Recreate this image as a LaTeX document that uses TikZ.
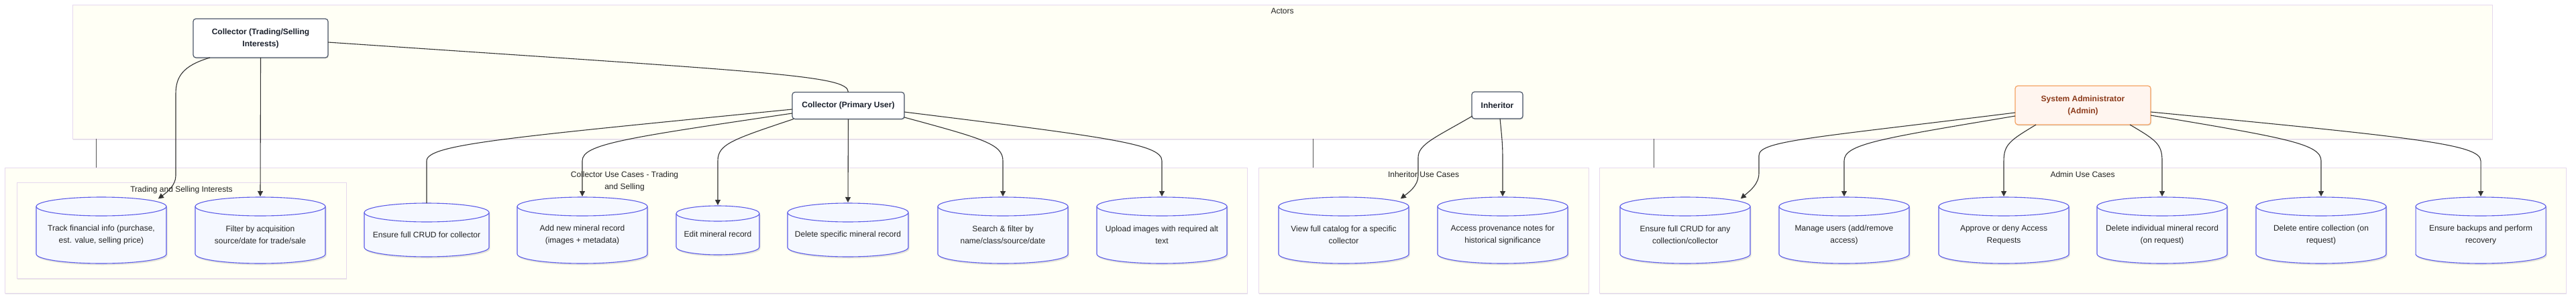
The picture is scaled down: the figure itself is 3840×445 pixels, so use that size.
\documentclass[tikz,border=0pt]{standalone}
\usepackage{fontspec}
\setmainfont{Liberation Sans}
\usetikzlibrary{arrows.meta,calc,shadows}
\definecolor{sgfill}{HTML}{FFFFF5}
\definecolor{sgdraw}{HTML}{E6D8EE}
\definecolor{cylfill}{HTML}{F5F8FF}
\definecolor{cyldraw}{HTML}{5C5CE8}
\definecolor{cyltextcol}{HTML}{222222}
\definecolor{actfill}{HTML}{FFFFFF}
\definecolor{actdraw}{HTML}{4A5568}
\definecolor{acttext}{HTML}{1A202C}
\definecolor{admfill}{HTML}{FFF5EF}
\definecolor{admdraw}{HTML}{F4A261}
\definecolor{admtext}{HTML}{8B3A1A}
\definecolor{edgecol}{HTML}{333333}
\definecolor{linkcol}{HTML}{555555}
\definecolor{titlecol}{HTML}{222222}
\newcommand\mycyl[7]{%
 \pgfmathsetmacro\cylL{#2-#5/2}%
 \pgfmathsetmacro\cylR{#2+#5/2}%
 \pgfmathsetmacro\cylCt{#3+#6}%
 \pgfmathsetmacro\cylCb{#4-#6}%
 \pgfmathsetmacro\cylKx{0.5523*#5/2}%
 \pgfmathsetmacro\cylKy{0.5523*#6}%
 \pgfmathsetmacro\cylXa{#2-\cylKx}%
 \pgfmathsetmacro\cylXb{#2+\cylKx}%
 \pgfmathsetmacro\cylYa{\cylCb+\cylKy}%
 \pgfmathsetmacro\cylYb{\cylCt-\cylKy}%
 \pgfmathsetmacro\cylYc{\cylCt+\cylKy}%
 \pgfmathsetmacro\cylYd{\cylCt+#6}%
 \pgfmathsetmacro\cylM{(#3+#6+#4)/2}%
 \pgfmathsetmacro\cylC{(#3+#4)/2}%
 \pgfmathsetmacro\cylH{#4-#3}%
 \fill[black,opacity=0.10,shift={(1.5,2.5)}] (\cylL,\cylCt) -- (\cylL,\cylCb) .. controls (\cylL,\cylYa) and (\cylXa,#4) .. (#2,#4) .. controls (\cylXb,#4) and (\cylR,\cylYa) .. (\cylR,\cylCb) -- (\cylR,\cylCt) .. controls (\cylR,\cylYb) and (\cylXb,#3) .. (#2,#3) .. controls (\cylXa,#3) and (\cylL,\cylYb) .. (\cylL,\cylCt) -- cycle;
 \filldraw[cylline] (\cylL,\cylCt) -- (\cylL,\cylCb) .. controls (\cylL,\cylYa) and (\cylXa,#4) .. (#2,#4) .. controls (\cylXb,#4) and (\cylR,\cylYa) .. (\cylR,\cylCb) -- (\cylR,\cylCt) .. controls (\cylR,\cylYb) and (\cylXb,#3) .. (#2,#3) .. controls (\cylXa,#3) and (\cylL,\cylYb) .. (\cylL,\cylCt) -- cycle;
 \draw[cylline] (\cylL,\cylCt) .. controls (\cylL,\cylYc) and (\cylXa,\cylYd) .. (#2,\cylYd) .. controls (\cylXb,\cylYd) and (\cylR,\cylYc) .. (\cylR,\cylCt);
 \node[inner sep=0pt,outer sep=0pt,minimum width=#5,minimum height=\cylH] (#1) at (#2,\cylC) {};
 \node[cyltext] at (#2,\cylM) {#7};
}
\newcommand\fan[3]{\draw[arr] #1 .. controls (#3) and (#2.north |- 0,215) .. (#2.north |- 0,240) -- (#2.north);}
\begin{document}
\begin{tikzpicture}[x=1pt,y=-1pt,
 sg/.style={draw=sgdraw,fill=sgfill,line width=0.9pt,inner sep=0pt,outer sep=0pt,drop shadow={shadow xshift=1pt,shadow yshift=-2pt,opacity=0.18}},
 sgtitle/.style={text=titlecol,font=\fontsize{12}{18}\selectfont,align=center,inner sep=0pt},
 actor/.style={draw=actdraw,fill=actfill,line width=1.2pt,rounded corners=4pt,text=acttext,font=\bfseries\fontsize{12}{18}\selectfont,align=center,inner sep=0pt,outer sep=0pt,drop shadow={shadow xshift=1pt,shadow yshift=-1.5pt,opacity=0.25}},
 admin/.style={actor,draw=admdraw,fill=admfill,text=admtext},
 cylline/.style={draw=cyldraw,fill=cylfill,line width=1.1pt},
 cyltext/.style={text=cyltextcol,font=\fontsize{12}{18}\selectfont,align=center,inner sep=0pt},
 edge/.style={draw=edgecol,line width=1.1pt},
 arr/.style={edge,-{Triangle[length=8pt,width=8pt]},shorten >=1pt},
 link/.style={draw=linkcol,line width=0.9pt}]
\useasboundingbox[fill=white] (0,0) rectangle (3840,445);
% subgraph boxes
\node[sg,minimum width=3607,minimum height=200] (actbox) at (1911.5,107) {};
\node[sg,minimum width=1852,minimum height=187] (cucbox) at (933,343.5) {};
\node[sg,minimum width=491,minimum height=143] (tsbox) at (270.5,343.5) {};
\node[sg,minimum width=492,minimum height=187] (iucbox) at (2122,343.5) {};
\node[sg,minimum width=1441,minimum height=187] (aucbox) at (3104.5,343.5) {};
\node[sgtitle] at ($(actbox.north)+(0,9)$) {Actors};
\node[sgtitle] at ($(cucbox.north)+(-2,20)$) {Collector Use Cases - Trading\\and Selling};
\node[sgtitle] at ($(tsbox.north)+(0,11)$) {Trading and Selling Interests};
\node[sgtitle] at ($(iucbox.north)+(0,10.5)$) {Inheritor Use Cases};
\node[sgtitle] at ($(aucbox.north)+(0,10.5)$) {Admin Use Cases};
% links between subgraphs
\coordinate (l1) at ($(cucbox.north west)+(136,0)$);
\coordinate (l2) at ($(iucbox.north west)+(81,0)$);
\coordinate (l3) at ($(aucbox.north west)+(81,0)$);
\draw[link] (l1) -- (l1 |- actbox.south);
\draw[link] (l2) -- (l2 |- actbox.south);
\draw[link] (l3) -- (l3 |- actbox.south);
% cylinders
\mycyl{trk}{151}{294}{393}{194}{14}{Track financial info (purchase,\\est. value, selling price)}
\mycyl{flt}{388}{294}{393}{194}{14}{Filter by acquisition\\source/date for trade/sale}
\mycyl{crc}{636}{303}{383}{186}{14}{Ensure full CRUD for collector}
\mycyl{add}{868}{294}{393}{194}{14}{Add new mineral record\\(images + metadata)}
\mycyl{edt}{1070}{307}{380}{124}{11.5}{Edit mineral record}
\mycyl{dsp}{1264}{303}{383}{180}{14}{Delete specific mineral record}
\mycyl{srch}{1495}{294}{393}{194}{14}{Search \& filter by\\name/class/source/date}
\mycyl{upl}{1732}{294}{393}{194}{14}{Upload images with required alt\\text}
\mycyl{view}{2003}{294}{393}{194}{14}{View full catalog for a specific\\collector}
\mycyl{acc}{2240}{294}{393}{194}{14}{Access provenance notes for\\historical significance}
\mycyl{cra}{2512}{294}{393}{194}{14}{Ensure full CRUD for any\\collection/collector}
\mycyl{mng}{2749}{294}{393}{194}{14}{Manage users (add/remove\\access)}
\mycyl{apr}{2987}{294}{393}{194}{14}{Approve or deny Access\\Requests}
\mycyl{dind}{3223}{294}{393}{194}{14}{Delete individual mineral record\\(on request)}
\mycyl{dent}{3460}{294}{393}{194}{14}{Delete entire collection (on\\request)}
\mycyl{bak}{3698}{294}{393}{194}{14}{Ensure backups and perform\\recovery}
% actors
\node[actor,minimum width=201,minimum height=58] (tra) at (388.5,57) {Collector (Trading/Selling\\Interests)};
\node[actor,minimum width=167,minimum height=40] (pri) at (1264.5,157.5) {Collector (Primary User)};
\node[actor,minimum width=76,minimum height=40] (inh) at (2232,157) {Inheritor};
\node[admin,minimum width=202,minimum height=58] (adm) at (3105,157) {System Administrator\\(Admin)};
% edges
\draw[edge] ($(tra.east)+(0,6)$) .. controls (1150,108) and (pri.north |- 0,112) .. (pri.north);
\draw[arr] ($(tra.south west)+(25,0)$) .. controls (272,98) and (262,115) .. (262,140) -- (262,262) .. controls (262,276) and (250,286) .. ($(trk.north)+(84,3)$);
\draw[arr] (tra.south) -- (flt.north);
\draw[edge] ($(pri.west)+(0,5.5)$) .. controls (760,205) and (crc.north |- 0,215) .. (crc.north |- 0,240) -- (crc.north);
\fan{($(pri.west)+(0,11.5)$)}{add}{931,206}
\fan{($(pri.south west)+(2,0)$)}{edt}{1092,208}
\draw[arr] (pri.south) -- (dsp.north);
\fan{($(pri.east)+(0,17.5)$)}{srch}{1466,207}
\fan{($(pri.east)+(0,9.5)$)}{upl}{1655,205}
\draw[arr] ($(inh.west)+(1,16)$) .. controls (2140,205) and (2114,215) .. (2114,235) -- (2114,262) .. controls (2114,277) and (2100,287) .. ($(view.north)+(84,3)$);
\draw[arr] ($(inh.south)+(4,0)$) .. controls ($(inh.south)+(7,30)$) and (acc.north |- 0,215) .. (acc.north |- 0,240) -- (acc.north);
\draw[arr] ($(adm.west)+(0,11)$) .. controls (2699,206) and (2622,210) .. (2622,232) -- (2622,258) .. controls (2622,275) and (2608,285) .. ($(cra.north)+(82,3)$);
\fan{($(adm.west)+(0,16)$)}{mng}{2801,207}
\fan{($(adm.south west)+(31,0)$)}{apr}{2997,209}
\fan{($(adm.south east)+(-31,0)$)}{dind}{3214,209}
\fan{($(adm.east)+(0,15)$)}{dent}{3410,206}
\fan{($(adm.east)+(0,10)$)}{bak}{3599,205}
\end{tikzpicture}
\end{document}
